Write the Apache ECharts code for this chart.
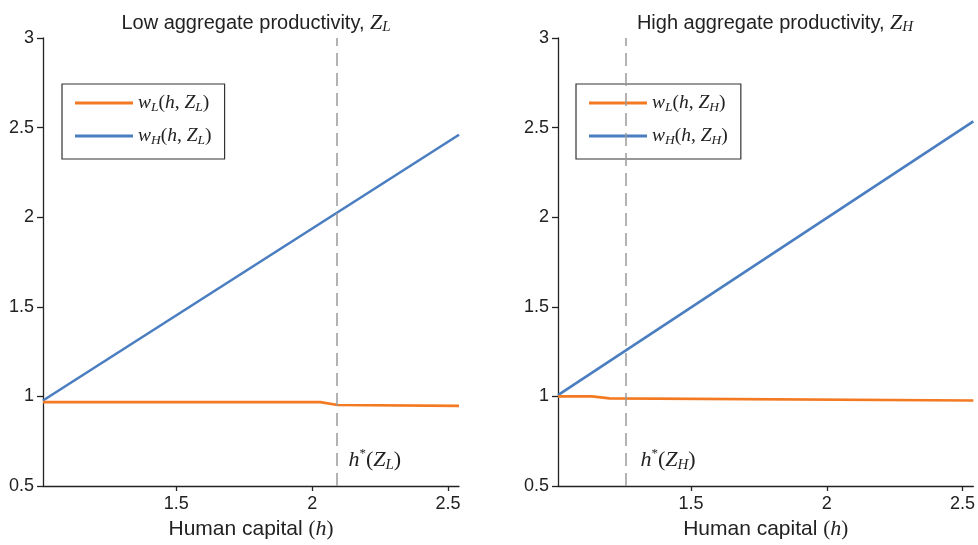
<!DOCTYPE html>
<html>
<head>
<meta charset="utf-8">
<script src="https://cdn.jsdelivr.net/npm/echarts@6/dist/echarts.min.js"></script>
<style>
  html, body { margin: 0; padding: 0; background: #fff; }
  #chart { width: 978px; height: 545px; }
</style>
</head>
<body>
<div id="chart"></div>
<script>
// 左图：低总生产率 Z_L
const hLowOrange = [1.01, 2.03, 2.093, 2.54];
const wLowOrange = [0.968, 0.968, 0.952, 0.947];
const hLowBlue = [1.01, 2.54];
const wLowBlue = [0.977, 2.46];
const hStarLow = 2.093;

// 右图：高总生产率 Z_H
const hHighOrange = [1.01, 1.135, 1.2, 2.54];
const wHighOrange = [1.0, 1.0, 0.989, 0.977];
const hHighBlue = [1.01, 2.54];
const wHighBlue = [1.007, 2.535];
const hStarHigh = 1.262;

const xTicks = [1.5, 2, 2.5];
const hMin = 1.01, hMax = 2.54;
const yMin = 0.5, yMax = 3, yStep = 0.5;

const ORANGE = '#F37A22';
const BLUE = '#4A7EC1';
const SANS = 'Liberation Sans';
const SERIF = 'Liberation Serif';

function pairs(xs, ys) {
  return xs.map((x, i) => [x, ys[i]]);
}

const mathRich = {
  i: { fontFamily: SERIF, fontStyle: 'italic', fontSize: 19.5, lineHeight: 22, color: '#222' },
  n: { fontFamily: SERIF, fontSize: 19.5, lineHeight: 22, color: '#222' },
  s: { fontFamily: SERIF, fontStyle: 'italic', fontSize: 13.5, lineHeight: 11, verticalAlign: 'bottom', color: '#222' }
};

const legendNames = {
  wLL: '{i|w}{s|L}{n|(}{i|h}{n|, }{i|Z}{s|L}{n|)}',
  wHL: '{i|w}{s|H}{n|(}{i|h}{n|, }{i|Z}{s|L}{n|)}',
  wLH: '{i|w}{s|L}{n|(}{i|h}{n|, }{i|Z}{s|H}{n|)}',
  wHH: '{i|w}{s|H}{n|(}{i|h}{n|, }{i|Z}{s|H}{n|)}'
};

const titleRich = {
  z: { fontFamily: SERIF, fontStyle: 'italic', fontSize: 22, lineHeight: 24, color: '#222' },
  s: { fontFamily: SERIF, fontStyle: 'italic', fontSize: 15, lineHeight: 12, verticalAlign: 'bottom', color: '#222' }
};

const starRich = {
  i: { fontFamily: SERIF, fontStyle: 'italic', fontSize: 22, lineHeight: 26, color: '#222' },
  n: { fontFamily: SERIF, fontSize: 22, lineHeight: 26, color: '#222' },
  sup: { fontFamily: SERIF, fontSize: 13, lineHeight: 12, verticalAlign: 'top', color: '#222' },
  s: { fontFamily: SERIF, fontStyle: 'italic', fontSize: 15, lineHeight: 13, verticalAlign: 'bottom', color: '#222' }
};

function xAxisOf(idx) {
  return {
    type: 'value',
    gridIndex: idx,
    min: hMin,
    max: hMax,
    name: 'Human capital {p|(}{h|h}{p|)}',
    nameLocation: 'middle',
    nameGap: 32,
    nameTextStyle: {
      fontFamily: SANS, fontSize: 21, color: '#222',
      rich: {
        p: { fontFamily: SERIF, fontSize: 21, color: '#222' },
        h: { fontFamily: SERIF, fontStyle: 'italic', fontSize: 22, color: '#222' }
      }
    },
    axisLine: { lineStyle: { color: '#222', width: 1.3 } },
    axisTick: { customValues: xTicks, length: 5, lineStyle: { color: '#222', width: 1.3 } },
    axisLabel: { customValues: xTicks, margin: 9, fontFamily: SANS, fontSize: 18, color: '#222' },
    splitLine: { show: false }
  };
}

function yAxisOf(idx) {
  return {
    type: 'value',
    gridIndex: idx,
    min: yMin,
    max: yMax,
    interval: yStep,
    axisLine: { show: true, lineStyle: { color: '#222', width: 1.3 } },
    axisTick: { show: true, length: 6, lineStyle: { color: '#222', width: 1.3 } },
    axisLabel: { margin: 9, fontFamily: SANS, fontSize: 18, color: '#222' },
    splitLine: { show: false }
  };
}

function starMarks(hStar, dist, sub) {
  return {
    markLine: {
      silent: true,
      symbol: 'none',
      label: { show: false },
      lineStyle: { color: '#9a9a9a', width: 1.5, type: [13, 7] },
      data: [{ xAxis: hStar }]
    },
    markPoint: {
      silent: true,
      symbol: 'circle',
      symbolSize: 0,
      label: {
        show: true,
        position: 'right',
        distance: dist,
        formatter: '{i|h}{sup|*}{n|(}{i|Z}{s|' + sub + '}{n|)}',
        rich: starRich
      },
      data: [{ coord: [hStar, 0.645] }]
    }
  };
}

const lineCommon = { type: 'line', showSymbol: false, symbol: 'none', lineStyle: { width: 2.6 } };

const legendCommon = {
  orient: 'vertical', top: 84,
  padding: [9, 13, 12, 13], itemGap: 12,
  borderColor: '#333', borderWidth: 1.2, backgroundColor: '#fff',
  icon: 'rect', itemWidth: 58, itemHeight: 3,
  formatter: name => legendNames[name],
  textStyle: { rich: mathRich }
};

const option = {
  animation: false,
  backgroundColor: '#fff',
  title: [
    {
      text: 'Low aggregate productivity, {z|Z}{s|L}',
      left: 251, top: 6, textAlign: 'center',
      textStyle: { fontFamily: SANS, fontSize: 20, fontWeight: 'normal', color: '#222', lineHeight: 24, rich: titleRich }
    },
    {
      text: 'High aggregate productivity, {z|Z}{s|H}',
      left: 770, top: 6, textAlign: 'center',
      textStyle: { fontFamily: SANS, fontSize: 20, fontWeight: 'normal', color: '#222', lineHeight: 24, rich: titleRich }
    }
  ],
  legend: [
    Object.assign({}, legendCommon, { data: ['wLL', 'wHL'], left: 62 }),
    Object.assign({}, legendCommon, { data: ['wLH', 'wHH'], left: 576 })
  ],
  grid: [
    { left: 43, top: 38, width: 416, height: 452 },
    { left: 558, top: 38, width: 418.5, height: 452 }
  ],
  xAxis: [xAxisOf(0), xAxisOf(1)],
  yAxis: [yAxisOf(0), yAxisOf(1)],
  series: [
    Object.assign({}, lineCommon, starMarks(hStarLow, 11, 'L'), {
      name: 'wHL', xAxisIndex: 0, yAxisIndex: 0, color: BLUE, z: 2,
      data: pairs(hLowBlue, wLowBlue)
    }),
    Object.assign({}, lineCommon, {
      name: 'wLL', xAxisIndex: 0, yAxisIndex: 0, color: ORANGE, z: 3,
      data: pairs(hLowOrange, wLowOrange)
    }),
    Object.assign({}, lineCommon, starMarks(hStarHigh, 14, 'H'), {
      name: 'wHH', xAxisIndex: 1, yAxisIndex: 1, color: BLUE, z: 2,
      data: pairs(hHighBlue, wHighBlue)
    }),
    Object.assign({}, lineCommon, {
      name: 'wLH', xAxisIndex: 1, yAxisIndex: 1, color: ORANGE, z: 3,
      data: pairs(hHighOrange, wHighOrange)
    })
  ]
};

const chart = echarts.init(document.getElementById('chart'));
chart.setOption(option);
</script>
</body>
</html>
